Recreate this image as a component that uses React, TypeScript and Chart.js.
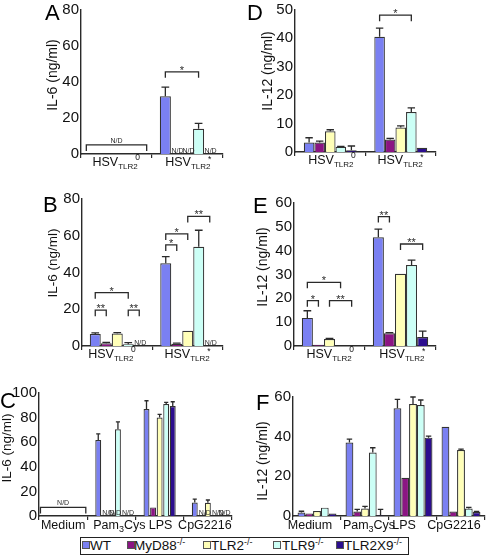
import React, { useEffect, useRef } from "react";
import { Chart, registerables } from "chart.js";

Chart.register(...registerables);

const FONT = '"Liberation Sans", Arial, Helvetica, sans-serif';

// ---- series ----
const SERIES_NAMES = ["WT", "MyD88", "TLR2", "TLR9", "TLR2X9"];
const SERIES_SUP = ["", "-/-", "-/-", "-/-", "-/-"];
const SERIES_COLORS = ["#7a80f2", "#8b1583", "#ffffb8", "#ccfff6", "#2c0e8e"];

// ---- categories ----
const HSV_CATEGORIES = ["HSV TLR2 0", "HSV TLR2 *"];
const HSV_LABELS: [string, string][][] = [
  [["HSV", ""], ["TLR2", "sub"], ["0", "sup"]],
  [["HSV", ""], ["TLR2", "sub"], ["*", "sup"]],
];
const STIM_CATEGORIES = ["Medium", "Pam3Cys", "LPS", "CpG2216"];
const STIM_LABELS: [string, string][][] = [
  [["Medium", ""]],
  [["Pam", ""], ["3", "sub"], ["Cys", ""]],
  [["LPS", ""]],
  [["CpG2216", ""]],
];

// ---- Panel A: IL-6, HSV ----
const A_WT = [null, 32];
const A_WT_ERR = [0, 5];
const A_MYD88 = [null, null];
const A_MYD88_ERR = [0, 0];
const A_TLR2 = [null, null];
const A_TLR2_ERR = [0, 0];
const A_TLR9 = [null, 14];
const A_TLR9_ERR = [0, 3];
const A_TLR2X9 = [null, null];
const A_TLR2X9_ERR = [0, 0];
const A_ND_GROUPS: [number, number][] = [[0, 5]];
const A_SIG: [number, number, number, number, string][] = [[1, 0, 3, 45.5, "*"]];

// ---- Panel D: IL-12, HSV ----
const D_WT = [3.3, 40.4];
const D_WT_ERR = [1.7, 3.1];
const D_MYD88 = [3.3, 4.4];
const D_MYD88_ERR = [0.5, 0.4];
const D_TLR2 = [7.3, 8.6];
const D_TLR2_ERR = [0.5, 0.6];
const D_TLR9 = [1.8, 14];
const D_TLR9_ERR = [0.2, 1.5];
const D_TLR2X9 = [0.6, 1.5];
const D_TLR2X9_ERR = [1.5, 0];
const D_SIG: [number, number, number, number, string][] = [[1, 0, 3, 48, "*"]];

// ---- Panel B: IL-6, HSV ----
const B_WT = [6.5, 45];
const B_WT_ERR = [0.6, 3.6];
const B_MYD88 = [1.5, 1.2];
const B_MYD88_ERR = [0.5, 0.4];
const B_TLR2 = [6.8, 8.3];
const B_TLR2_ERR = [0.5, 0];
const B_TLR9 = [1, 54];
const B_TLR9_ERR = [0.8, 9];
const B_TLR2X9 = [null, null];
const B_TLR2X9_ERR = [0, 0];
const B_SIG: [number, number, number, number, string][] = [
  [0, 0, 3, 29, "*"],
  [0, 0, 1, 19.5, "**"],
  [0, 3, 4, 19.5, "**"],
  [1, 0, 1, 55, "*"],
  [1, 0, 2, 61, "*"],
  [1, 2, 4, 70.5, "**"],
];

// ---- Panel E: IL-12, HSV ----
const E_WT = [11.8, 45.6];
const E_WT_ERR = [3, 3.4];
const E_MYD88 = [0.5, 5.3];
const E_MYD88_ERR = [0, 0.3];
const E_TLR2 = [2.9, 30.3];
const E_TLR2_ERR = [0.3, 0];
const E_TLR9 = [0, 34];
const E_TLR9_ERR = [0, 2];
const E_TLR2X9 = [0, 3.8];
const E_TLR2X9_ERR = [0, 2.4];
const E_SIG: [number, number, number, number, string][] = [
  [0, 0, 3, 26.7, "*"],
  [0, 0, 1, 19, "*"],
  [0, 2, 4, 19, "**"],
  [1, 0, 1, 54.3, "**"],
  [1, 2, 4, 42.8, "**"],
];

// ---- Panel C: IL-6, stimuli ----
const C_WT = [null, 61.8, 87, 11];
const C_WT_ERR = [0, 5, 6.7, 2.7];
const C_MYD88 = [null, null, 7, null];
const C_MYD88_ERR = [0, 0, 0, 0];
const C_TLR2 = [null, null, 80, 10.8];
const C_TLR2_ERR = [0, 0, 2.7, 2.2];
const C_TLR9 = [null, 70.5, 91, null];
const C_TLR9_ERR = [0, 6, 1.4, 0];
const C_TLR2X9 = [null, null, 89.4, null];
const C_TLR2X9_ERR = [0, 0, 3.5, 0];
const C_ND_GROUPS: [number, number][] = [[0, 7]];

// ---- Panel F: IL-12, stimuli ----
const F_WT = [1.8, 37, 54.3, 45];
const F_WT_ERR = [0.6, 1.8, 4.5, 0];
const F_MYD88 = [1.3, 2.3, 19.3, 2.3];
const F_MYD88_ERR = [0, 1, 0, 0];
const F_TLR2 = [2.5, 3.8, 56.5, 33.3];
const F_TLR2_ERR = [0, 1.1, 3.5, 0.4];
const F_TLR9 = [4.2, 32, 56, 3.8];
const F_TLR9_ERR = [0, 2.4, 2.5, 0.5];
const F_TLR2X9 = [1.2, 0.3, 39.5, 2];
const F_TLR2X9_ERR = [0, 3, 0.8, 0.3];

type Sig = [number, number, number, number, string];
interface PanelCfg {
  key: string;
  letter: string;
  letterPos: [number, number];
  box: [number, number, number, number];
  area: [number, number, number, number];
  yMax: number;
  yStep: number;
  yTitle: string;
  titleFont: number;
  titlePos: [number, number];
  labels: string[];
  rich: [string, string][][];
  labelDx: number[];
  labelOffset: number;
  mainFont: number;
  subFont: number;
  supFont: number;
  values: (number | null)[][];
  errors: number[][];
  ndGroups: [number, number][];
  ndSpan: number;
  sig: Sig[];
  catPct: number;
  barPct: number;
}

const PANELS: PanelCfg[] = [
  {
    key: "A", letter: "A", letterPos: [45, 20],
    box: [0, 0, 243, 175], area: [81, 8, 223, 154],
    yMax: 80, yStep: 20, yTitle: "IL-6 (ng/ml)", titleFont: 14, titlePos: [53, 75],
    labels: HSV_CATEGORIES, rich: HSV_LABELS, labelDx: [1, 2], labelOffset: 12, mainFont: 12.5, subFont: 8, supFont: 8.5,
    values: [A_WT, A_MYD88, A_TLR2, A_TLR9, A_TLR2X9],
    errors: [A_WT_ERR, A_MYD88_ERR, A_TLR2_ERR, A_TLR9_ERR, A_TLR2X9_ERR],
    ndGroups: A_ND_GROUPS, ndSpan: 0.85, sig: A_SIG, catPct: 0.78, barPct: 1,
  },
  {
    key: "D", letter: "D", letterPos: [4, 20],
    box: [243, 0, 244, 175], area: [52, 8, 193, 152],
    yMax: 50, yStep: 10, yTitle: "IL-12 (ng/ml)", titleFont: 14, titlePos: [25, 71],
    labels: HSV_CATEGORIES, rich: HSV_LABELS, labelDx: [3, 1], labelOffset: 12, mainFont: 12.5, subFont: 8, supFont: 8.5,
    values: [D_WT, D_MYD88, D_TLR2, D_TLR9, D_TLR2X9],
    errors: [D_WT_ERR, D_MYD88_ERR, D_TLR2_ERR, D_TLR9_ERR, D_TLR2X9_ERR],
    ndGroups: [], ndSpan: 0.85, sig: D_SIG, catPct: 0.75, barPct: 1,
  },
  {
    key: "B", letter: "B", letterPos: [43, 37],
    box: [0, 175, 243, 190], area: [82, 24, 223, 171],
    yMax: 80, yStep: 20, yTitle: "IL-6 (ng/ml)", titleFont: 13.5, titlePos: [53, 88],
    labels: HSV_CATEGORIES, rich: HSV_LABELS, labelDx: [-4, 1], labelOffset: 12, mainFont: 12.5, subFont: 8, supFont: 8.5,
    values: [B_WT, B_MYD88, B_TLR2, B_TLR9, B_TLR2X9],
    errors: [B_WT_ERR, B_MYD88_ERR, B_TLR2_ERR, B_TLR9_ERR, B_TLR2X9_ERR],
    ndGroups: [], ndSpan: 0.85, sig: B_SIG, catPct: 0.78, barPct: 1,
  },
  {
    key: "E", letter: "E", letterPos: [10, 38],
    box: [243, 175, 244, 190], area: [51, 28, 193, 171],
    yMax: 60, yStep: 10, yTitle: "IL-12 (ng/ml)", titleFont: 14, titlePos: [20, 92],
    labels: HSV_CATEGORIES, rich: HSV_LABELS, labelDx: [2, 3], labelOffset: 12, mainFont: 12.5, subFont: 8, supFont: 8.5,
    values: [E_WT, E_MYD88, E_TLR2, E_TLR9, E_TLR2X9],
    errors: [E_WT_ERR, E_MYD88_ERR, E_TLR2_ERR, E_TLR9_ERR, E_TLR2X9_ERR],
    ndGroups: [], ndSpan: 0.85, sig: E_SIG, catPct: 0.78, barPct: 1,
  },
  {
    key: "C", letter: "C", letterPos: [0, 43],
    box: [0, 365, 243, 191], area: [39, 28, 232, 151],
    yMax: 100, yStep: 20, yTitle: "IL-6 (ng/ml)", titleFont: 13.5, titlePos: [7, 83],
    labels: STIM_CATEGORIES, rich: STIM_LABELS, labelDx: [0, 8, 1, -3], labelOffset: 13, mainFont: 12.5, subFont: 9, supFont: 9,
    values: [C_WT, C_MYD88, C_TLR2, C_TLR9, C_TLR2X9],
    errors: [C_WT_ERR, C_MYD88_ERR, C_TLR2_ERR, C_TLR9_ERR, C_TLR2X9_ERR],
    ndGroups: C_ND_GROUPS, ndSpan: 0.94, sig: [], catPct: 0.68, barPct: 0.9,
  },
  {
    key: "F", letter: "F", letterPos: [13, 45],
    box: [243, 365, 244, 191], area: [50, 32, 242, 151],
    yMax: 60, yStep: 20, yTitle: "IL-12 (ng/ml)", titleFont: 14, titlePos: [20, 96],
    labels: STIM_CATEGORIES, rich: STIM_LABELS, labelDx: [-7, 4, -9, -7], labelOffset: 13, mainFont: 12.5, subFont: 9, supFont: 9,
    values: [F_WT, F_MYD88, F_TLR2, F_TLR9, F_TLR2X9],
    errors: [F_WT_ERR, F_MYD88_ERR, F_TLR2_ERR, F_TLR9_ERR, F_TLR2X9_ERR],
    ndGroups: [], ndSpan: 0.85, sig: [], catPct: 0.81, barPct: 1,
  },
];

const INK = "#2a2a2a";

function slotWidth(chart: any, p: PanelCfg) {
  const xs = chart.scales.x;
  return (xs.width / p.labels.length) * p.catPct / SERIES_NAMES.length;
}
function barCenter(chart: any, p: PanelCfg, cat: number, idx: number) {
  const xs = chart.scales.x;
  return xs.getPixelForValue(cat) + (idx - (SERIES_NAMES.length - 1) / 2) * slotWidth(chart, p);
}

function makePlugin(p: PanelCfg) {
  return {
    id: "decor" + p.key,
    afterDatasetsDraw(chart: any) {
      const ctx = chart.ctx;
      const ys = chart.scales.y;
      const bw = slotWidth(chart, p) * p.barPct;
      ctx.save();
      ctx.strokeStyle = INK;
      ctx.lineWidth = 1.3;
      p.values.forEach((vals, s) => {
        vals.forEach((v, c) => {
          const e = p.errors[s][c];
          if (v == null || !e) return;
          const x = barCenter(chart, p, c, s);
          const y0 = ys.getPixelForValue(v);
          const y1 = ys.getPixelForValue(v + e);
          const hw = Math.max(2, bw * 0.35);
          ctx.beginPath();
          ctx.moveTo(x, y0);
          ctx.lineTo(x, y1);
          ctx.moveTo(x - hw, y1);
          ctx.lineTo(x + hw, y1);
          ctx.stroke();
        });
      });
      ctx.restore();
    },
    afterDraw(chart: any) {
      const ctx = chart.ctx;
      const xs = chart.scales.x;
      const ys = chart.scales.y;
      const area = chart.chartArea;
      const slot = slotWidth(chart, p);
      const bw = slot * p.barPct;
      const cw = xs.width / p.labels.length;
      const ndCats = p.ndGroups.map((g) => g[0]);
      ctx.save();
      ctx.fillStyle = INK;
      ctx.strokeStyle = INK;
      ctx.lineWidth = 1.3;

      // N/D for individual bars
      ctx.font = `7px ${FONT}`;
      ctx.textAlign = "left";
      ctx.textBaseline = "alphabetic";
      p.values.forEach((vals, s) => {
        vals.forEach((v, c) => {
          if (v != null || ndCats.includes(c)) return;
          const x = barCenter(chart, p, c, s) - bw / 2 + 0.5;
          ctx.fillText("N/D", x, area.bottom - 1.5);
        });
      });

      // N/D bracket for whole groups
      p.ndGroups.forEach(([c, y]) => {
        const xc = xs.getPixelForValue(c);
        const x1 = xc - (cw * p.ndSpan) / 2;
        const x2 = xc + (cw * p.ndSpan) / 2;
        const yp = ys.getPixelForValue(y);
        ctx.beginPath();
        ctx.moveTo(x1, yp + 6);
        ctx.lineTo(x1, yp);
        ctx.lineTo(x2, yp);
        ctx.lineTo(x2, yp + 6);
        ctx.stroke();
        ctx.font = `7px ${FONT}`;
        ctx.textAlign = "center";
        ctx.fillText("N/D", xc, yp - 2);
      });

      // significance brackets
      p.sig.forEach(([c, a, b, y, lab]) => {
        const x1 = barCenter(chart, p, c, a);
        const x2 = barCenter(chart, p, c, b);
        const yp = ys.getPixelForValue(y);
        ctx.beginPath();
        ctx.moveTo(x1, yp + 6);
        ctx.lineTo(x1, yp);
        ctx.lineTo(x2, yp);
        ctx.lineTo(x2, yp + 6);
        ctx.stroke();
        ctx.font = `11px ${FONT}`;
        ctx.textAlign = "center";
        ctx.fillText(lab, (x1 + x2) / 2, yp + 2);
      });

      // category labels with sub/superscripts
      ctx.fillStyle = "#111";
      ctx.textAlign = "left";
      p.rich.forEach((segs, c) => {
        const fontFor = (kind: string) =>
          kind === "sub"
            ? `${p.subFont}px ${FONT}`
            : kind === "sup"
            ? `${p.supFont}px ${FONT}`
            : `${p.mainFont}px ${FONT}`;
        let total = 0;
        segs.forEach(([t, k]) => {
          ctx.font = fontFor(k);
          total += ctx.measureText(t).width;
        });
        let x = xs.getPixelForValue(c) - total / 2 + p.labelDx[c];
        const base = area.bottom + p.labelOffset;
        segs.forEach(([t, k]) => {
          ctx.font = fontFor(k);
          const dy = k === "sub" ? 2.5 : k === "sup" ? (t === "*" ? -4 : -6.5) : 0;
          const dx = k === "sup" ? -2.5 : 0;
          ctx.fillText(t, x + dx, base + dy);
          x += ctx.measureText(t).width;
        });
      });

      // y-axis title
      ctx.save();
      ctx.translate(p.titlePos[0], p.titlePos[1]);
      ctx.rotate(-Math.PI / 2);
      ctx.font = `${p.titleFont}px ${FONT}`;
      ctx.textAlign = "center";
      ctx.textBaseline = "middle";
      ctx.fillText(p.yTitle, 0, 0);
      ctx.restore();

      // panel letter
      ctx.font = `22px ${FONT}`;
      ctx.textAlign = "left";
      ctx.textBaseline = "alphabetic";
      ctx.fillStyle = "#000";
      ctx.fillText(p.letter, p.letterPos[0], p.letterPos[1]);
      ctx.restore();
    },
  };
}

function PanelChart({ p }: { p: PanelCfg }) {
  const ref = useRef<HTMLCanvasElement | null>(null);
  useEffect(() => {
    if (!ref.current) return;
    const [, , w, h] = p.box;
    const [aL, aT, aR, aB] = p.area;
    const chart = new Chart(ref.current, {
      type: "bar",
      data: {
        labels: p.labels,
        datasets: SERIES_NAMES.map((name, s) => ({
          label: name,
          data: p.values[s] as any,
          backgroundColor: SERIES_COLORS[s],
          borderColor: "#333",
          borderWidth: 1.2,
          barPercentage: p.barPct,
          categoryPercentage: p.catPct,
        })),
      },
      options: {
        responsive: false,
        animation: false,
        devicePixelRatio: 1,
        events: [],
        layout: { padding: { left: 0, top: aT, right: w - aR, bottom: 0 } },
        plugins: { legend: { display: false }, tooltip: { enabled: false } },
        scales: {
          x: {
            offset: true,
            ticks: { display: false },
            grid: {
              display: true,
              offset: true,
              drawOnChartArea: false,
              drawTicks: true,
              tickLength: 4,
              color: INK,
              lineWidth: 1.2,
            },
            border: { display: true, color: INK, width: 1.4 },
            afterFit: (s: any) => {
              s.height = h - aB;
            },
          },
          y: {
            min: 0,
            max: p.yMax,
            ticks: {
              stepSize: p.yStep,
              padding: 2,
              color: "#111",
              font: { family: FONT, size: 15, lineHeight: 1 },
            },
            grid: { display: false, drawTicks: false },
            border: { display: true, color: INK, width: 1.4 },
            afterFit: (s: any) => {
              s.width = aL;
            },
          },
        },
      },
      plugins: [makePlugin(p)],
    });
    return () => chart.destroy();
  }, [p]);
  const [l, t, w, h] = p.box;
  return (
    <canvas
      ref={ref}
      width={w}
      height={h}
      style={{ position: "absolute", left: l, top: t, width: w, height: h }}
    />
  );
}

const LEGEND_SWATCH_X = [82, 127, 203, 273, 336];
const LEGEND_TEXT_X = [90, 134, 211, 282, 344];

function Legend() {
  return (
    <>
      <div
        style={{
          position: "absolute",
          left: 80,
          top: 537,
          width: 329,
          height: 18,
          border: "1.5px solid #222",
          boxSizing: "border-box",
          background: "#fff",
        }}
      />
      {SERIES_NAMES.map((name, i) => (
        <React.Fragment key={name}>
          <div
            style={{
              position: "absolute",
              left: LEGEND_SWATCH_X[i],
              top: 540.5,
              width: 8,
              height: 8,
              background: SERIES_COLORS[i],
              border: "1px solid #555",
              boxSizing: "border-box",
            }}
          />
          <div
            style={{
              position: "absolute",
              left: LEGEND_TEXT_X[i],
              top: 538.5,
              font: `13.5px ${FONT}`,
              lineHeight: "13px",
              color: "#111",
              whiteSpace: "nowrap",
            }}
          >
            {name}
            {SERIES_SUP[i] && (
              <span style={{ fontSize: 9, position: "relative", top: -5 }}>{SERIES_SUP[i]}</span>
            )}
          </div>
        </React.Fragment>
      ))}
    </>
  );
}

export default function App() {
  return (
    <div
      style={{
        position: "absolute",
        left: 0,
        top: 0,
        width: 487,
        height: 556,
        background: "#fff",
        overflow: "hidden",
      }}
    >
      {PANELS.map((p) => (
        <PanelChart key={p.key} p={p} />
      ))}
      <Legend />
    </div>
  );
}
